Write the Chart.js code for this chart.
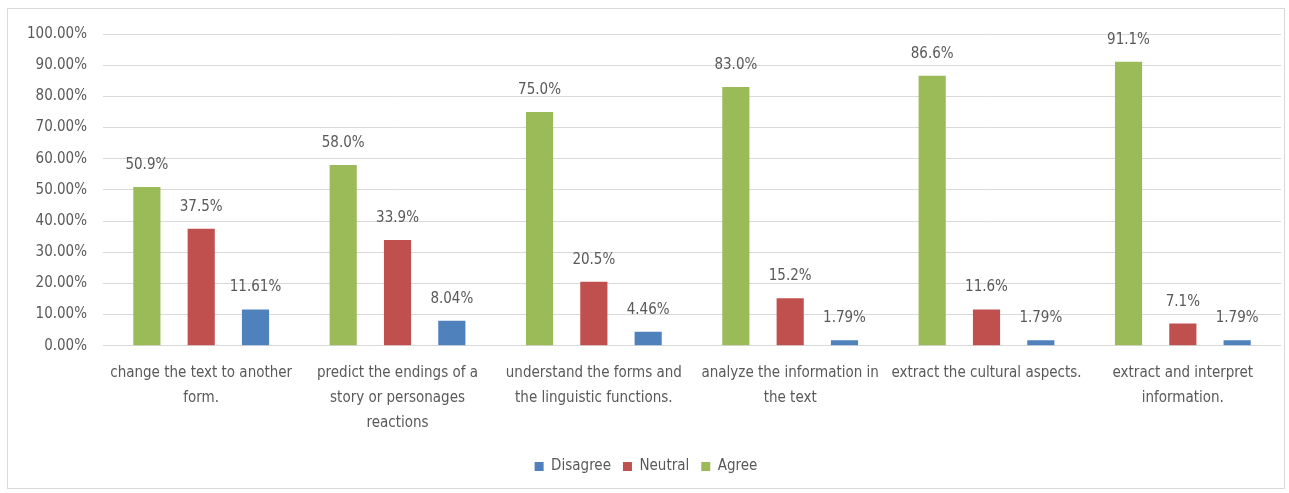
<!DOCTYPE html>
<html>
<head>
<meta charset="utf-8">
<script src="https://cdn.jsdelivr.net/npm/chart.js@4/dist/chart.umd.min.js"></script>
<style>
  body { margin: 0; background: #fff; }
  #frame {
    position: absolute; left: 7px; top: 8px; width: 1278px; height: 481px;
    border: 1px solid #d9d9d9; box-sizing: border-box;
  }
  canvas { display: block; }
</style>
</head>
<body>
<div id="frame"><canvas id="chart"></canvas></div>
<script>
// chart data
const categories = [
    ['change the text to another', 'form.'],
    ['predict the endings of a', 'story or personages', 'reactions'],
    ['understand the forms and', 'the linguistic functions.'],
    ['analyze the information in', 'the text'],
    ['extract the cultural aspects.'],
    ['extract and interpret', 'information.']
];
const agree = [50.9, 58.0, 75.0, 83.0, 86.6, 91.1];
const neutral = [37.5, 33.9, 20.5, 15.2, 11.6, 7.1];
const disagree = [11.61, 8.04, 4.46, 1.79, 1.79, 1.79];
const seriesNames = ['Agree', 'Neutral', 'Disagree'];
const labelDecimals = [1, 1, 2];

const FONT = '"Liberation Sans Narrow", "DejaVu Sans Condensed", sans-serif';
const TEXT = '#595959';

const valueLabels = {
    id: 'valueLabels',
    afterDatasetsDraw(chart) {
        const ctx = chart.ctx;
        ctx.save();
        ctx.font = '15px ' + FONT;
        ctx.fillStyle = TEXT;
        ctx.textAlign = 'center';
        ctx.textBaseline = 'middle';
        chart.data.datasets.forEach((ds, i) => {
            const meta = chart.getDatasetMeta(i);
            meta.data.forEach((bar, j) => {
                ctx.fillText(ds.data[j].toFixed(labelDecimals[i]) + '%', bar.x, bar.y - 22);
            });
        });
        ctx.restore();
    }
};

const ctx = document.getElementById('chart').getContext('2d');
const chart = new Chart(ctx, {
    type: 'bar',
    data: {
        labels: categories,
        datasets: [
            { label: seriesNames[0], data: agree, backgroundColor: '#9bbb59' },
            { label: seriesNames[1], data: neutral, backgroundColor: '#c0504d' },
            { label: seriesNames[2], data: disagree, backgroundColor: '#4f81bd' }
        ]
    },
    options: {
        responsive: true,
        maintainAspectRatio: false,
        animation: false,
        layout: { padding: { left: 3, right: 3, top: 12, bottom: 4 } },
        datasets: { bar: { categoryPercentage: 0.83, barPercentage: 0.5 } },
        scales: {
            x: {
                grid: { display: false },
                border: { display: false },
                ticks: {
                    color: TEXT, maxRotation: 0, autoSkip: false, padding: 7,
                    font: { family: FONT, size: 15, lineHeight: 1.65 }
                }
            },
            y: {
                min: 0, max: 100,
                ticks: {
                    stepSize: 10, color: TEXT, padding: 16,
                    font: { family: FONT, size: 15 },
                    callback: v => v.toFixed(2) + '%'
                },
                grid: { color: '#d9d9d9', drawTicks: false },
                border: { display: false }
            }
        },
        plugins: {
            legend: {
                position: 'bottom',
                reverse: true,
                title: { display: true, text: '', font: { size: 1, lineHeight: 1 }, padding: { top: 0, bottom: 4 } },
                labels: { boxWidth: 9, boxHeight: 9, color: TEXT, font: { family: FONT, size: 15 }, padding: 12 }
            },
            tooltip: { enabled: false }
        }
    },
    plugins: [valueLabels]
});
</script>
</body>
</html>
